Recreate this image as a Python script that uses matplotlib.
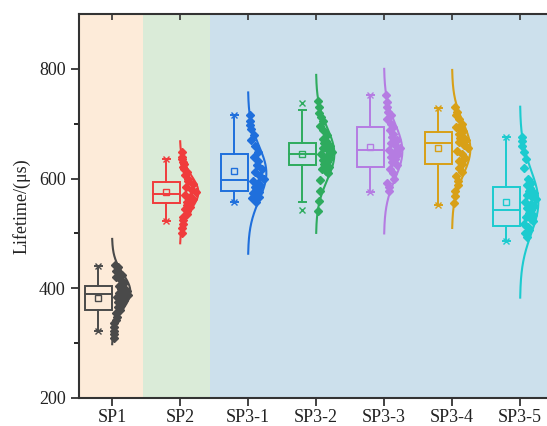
import numpy as np
import matplotlib
matplotlib.use("Agg")
import matplotlib.pyplot as plt

categories = ["SP1", "SP2", "SP3-1", "SP3-2", "SP3-3", "SP3-4", "SP3-5"]
colors = ["#4a4a4a", "#f03c3c", "#1f6fdc", "#2eab5e", "#b57ce2", "#d8a017", "#1ccbcf"]

# box statistics
q1 = [360, 556, 578, 624, 622, 627, 513]
median = [389, 571, 598, 645, 652, 664, 543]
q3 = [405, 594, 644, 665, 694, 684, 584]
whis_lo = [323, 523, 557, 558, 576, 551, 487]
whis_hi = [441, 635, 715, 725, 752, 728, 676]
means = [383, 575, 613, 645, 657, 655, 557]
p1 = [323, 523, 557, 542, 576, 551, 487]
p99 = [441, 635, 715, 737, 752, 728, 676]

# normal curve parameters
curve_mu = [394, 575, 610, 645, 650, 654, 557]
curve_sd = [32, 31, 49, 48, 50, 48, 58]

points = [
    [442, 438, 432, 428, 425, 420, 415, 410, 405, 402, 398, 395, 392, 390, 388,
     385, 382, 378, 375, 370, 365, 360, 355, 348, 342, 336, 330, 322, 316, 310],
    [648, 640, 635, 630, 626, 622, 618, 612, 606, 600, 595, 590, 585, 580, 575,
     570, 566, 562, 558, 555, 552, 548, 545, 540, 535, 530, 524, 518, 510, 500],
    [715, 705, 698, 690, 680, 670, 660, 648, 640, 632, 625, 618, 612, 605, 600,
     596, 592, 588, 585, 582, 579, 576, 573, 570, 567, 564, 561, 558],
    [742, 730, 720, 712, 705, 695, 688, 680, 672, 668, 664, 660, 656, 652, 648,
     645, 642, 638, 634, 630, 626, 622, 618, 614, 610, 598, 578, 560, 540],
    [752, 740, 730, 722, 715, 708, 700, 694, 688, 682, 676, 670, 664, 660, 656,
     652, 648, 644, 640, 635, 630, 624, 618, 610, 600, 592, 585, 578],
    [730, 722, 715, 708, 700, 694, 690, 686, 682, 678, 674, 670, 666, 662, 656,
     650, 644, 638, 632, 626, 620, 612, 604, 596, 588, 578, 568, 555],
    [676, 668, 660, 648, 636, 620, 600, 592, 588, 582, 578, 574, 570, 566, 562,
     558, 554, 550, 546, 542, 538, 534, 530, 526, 522, 518, 512, 506, 500, 494],
]

plt.rcParams['font.family'] = ['Liberation Serif', 'DejaVu Serif']

fig = plt.figure(figsize=(5.47, 4.26), dpi=100)
ax = fig.add_axes([79/547, 28/426, 475/547, 384/426])

ax.set_xlim(0.515, 7.5)
ax.set_ylim(200, 900)

# background bands
ax.axvspan(0.3, 1.455, color="#fdebd9", zorder=0, lw=0)
ax.axvspan(1.455, 2.44, color="#daebd8", zorder=0, lw=0)
ax.axvspan(2.44, 8.0, color="#cce0ec", zorder=0, lw=0)

box_off = -0.2
box_w = 0.4
cap_w = 0.1
curve_w = 0.27
fracs = [0.45, 0.8, 0.3, 0.65, 0.9, 0.2, 0.55, 0.75, 0.35, 0.6]

for i, c in enumerate(colors):
    pos = i + 1
    bx = pos + box_off
    lw = 1.4
    ax.add_patch(plt.Rectangle((bx - box_w/2, q1[i]), box_w, q3[i] - q1[i],
                               fill=False, edgecolor=c, lw=lw, zorder=3))
    ax.plot([bx - box_w/2, bx + box_w/2], [median[i], median[i]], color=c, lw=lw, zorder=3)
    ax.plot([bx, bx], [q3[i], whis_hi[i]], color=c, lw=lw, zorder=3)
    ax.plot([bx, bx], [q1[i], whis_lo[i]], color=c, lw=lw, zorder=3)
    for w in (whis_lo[i], whis_hi[i]):
        ax.plot([bx - cap_w/2, bx + cap_w/2], [w, w], color=c, lw=lw, zorder=3)
    ax.plot([bx, bx], [p1[i], p99[i]], ls="none", marker="x", ms=4.5, mew=1.0,
            color=c, zorder=4)
    ax.plot([bx], [means[i]], marker="s", ms=3.8, mfc="none", mec=c, mew=1.0, zorder=4)
    yy = np.linspace(curve_mu[i] - 3 * curve_sd[i], curve_mu[i] + 3 * curve_sd[i], 200)
    ww = curve_w * np.exp(-0.5 * ((yy - curve_mu[i]) / curve_sd[i]) ** 2)
    ax.plot(pos + ww, yy, color=c, lw=1.5, zorder=3)
    vals = np.array(points[i], dtype=float)
    dens = curve_w * np.exp(-0.5 * ((vals - curve_mu[i]) / curve_sd[i]) ** 2)
    fr = np.array([fracs[k % len(fracs)] for k in range(len(vals))])
    xs = pos + 0.03 + fr * np.maximum(dens - 0.04, 0.0)
    ax.plot(xs, vals, ls="none", marker="D", ms=3.8, color=c, mec=c, zorder=5)

ax.set_xticks(range(1, 8))
ax.set_xticklabels(categories)
ax.set_yticks([200, 400, 600, 800])
ax.set_yticks([300, 500, 700], minor=True)
ax.tick_params(axis="both", which="major", direction="out", length=6, width=1.2,
               labelsize=13, colors="#222222")
ax.tick_params(axis="x", which="major", pad=2)
ax.tick_params(axis="y", which="minor", direction="out", length=3.5, width=1.2)
ax.set_ylabel("Lifetime/(μs)", fontsize=13, color="#222222", labelpad=6)
for s in ax.spines.values():
    s.set_linewidth(1.5)
    s.set_color("#333333")
ax.spines["right"].set_visible(False)

# inward ticks on the top frame
ax.vlines(range(1, 8), 1 - 6/384, 1, transform=ax.get_xaxis_transform(),
          colors="#333333", lw=1.2, zorder=6, clip_on=False)

fig.savefig("out.png", dpi=100)
